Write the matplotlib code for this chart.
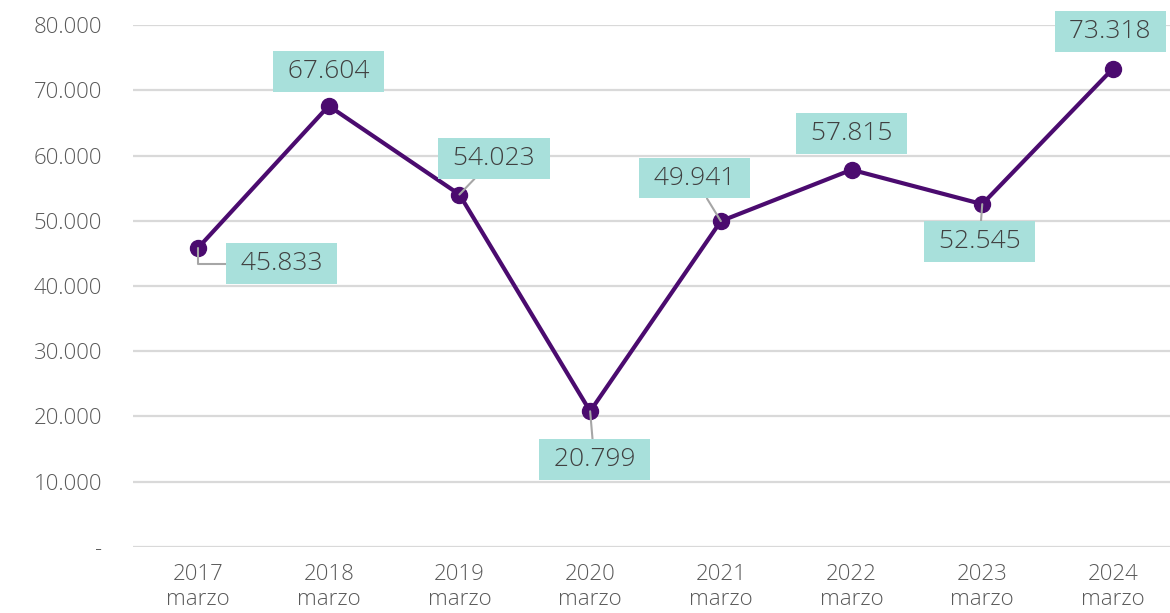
import matplotlib.pyplot as plt
from matplotlib.ticker import FuncFormatter

# datos
anios = ['2017', '2018', '2019', '2020', '2021', '2022', '2023', '2024']
mes = 'marzo'
valores = [45833, 67604, 54023, 20799, 49941, 57815, 52545, 73318]

# desplazamiento de cada etiqueta (en puntos) y si lleva linea guia
offsets = [(60, -11.5), (0, 25), (25, 26), (3, -35), (-19, 31), (0, 26), (-2, -27), (-2, 27)]
guia = [True, False, True, True, True, False, True, False]

plt.rcParams['font.family'] = ['Open Sans', 'DejaVu Sans']
plt.rcParams['font.weight'] = 'light'

fig = plt.figure(figsize=(11.7, 6.13), dpi=100)
ax = fig.add_axes([0.1134, 0.1077, 0.8937, 0.8515])

x = list(range(len(anios)))
ax.plot(x, valores, color='#4b0b6f', lw=3, marker='o', ms=11.5, zorder=3)

for i, v in enumerate(valores):
    txt = ' ' + f'{v:,}'.replace(',', '.') + ' '
    arrow = dict(arrowstyle='-', color='#a6a6a6', lw=1.5, shrinkA=0, shrinkB=0) if guia[i] else None
    if i == 0:
        arrow['connectionstyle'] = 'angle,angleA=0,angleB=90,rad=0'
    ax.annotate(txt, (i, v), xytext=offsets[i], textcoords='offset points',
                ha='center', va='center', fontsize=19, color='#404040',
                bbox=dict(boxstyle='square,pad=0.3', fc='#a8e0db', ec='none'),
                arrowprops=arrow, zorder=4, annotation_clip=False)

ax.set_xlim(-0.5, len(anios) - 0.5)
ax.set_ylim(0, 80000)
ax.set_yticks(range(0, 80001, 10000))
ax.yaxis.set_major_formatter(FuncFormatter(lambda v, p: '-' if v == 0 else f'{int(v):,}'.replace(',', '.')))
ax.set_xticks(x)
ax.set_xticklabels([f'{a}\n{mes}' for a in anios], linespacing=1.3)

ax.grid(axis='y', color='#d9d9d9', lw=1.6)
ax.set_axisbelow(True)
for s in ax.spines.values():
    s.set_visible(False)
ax.tick_params(axis='both', length=0, labelsize=16, colors='#595959')
ax.tick_params(axis='y', pad=22)
ax.tick_params(axis='x', pad=12)

fig.savefig('out.png', dpi=100)
